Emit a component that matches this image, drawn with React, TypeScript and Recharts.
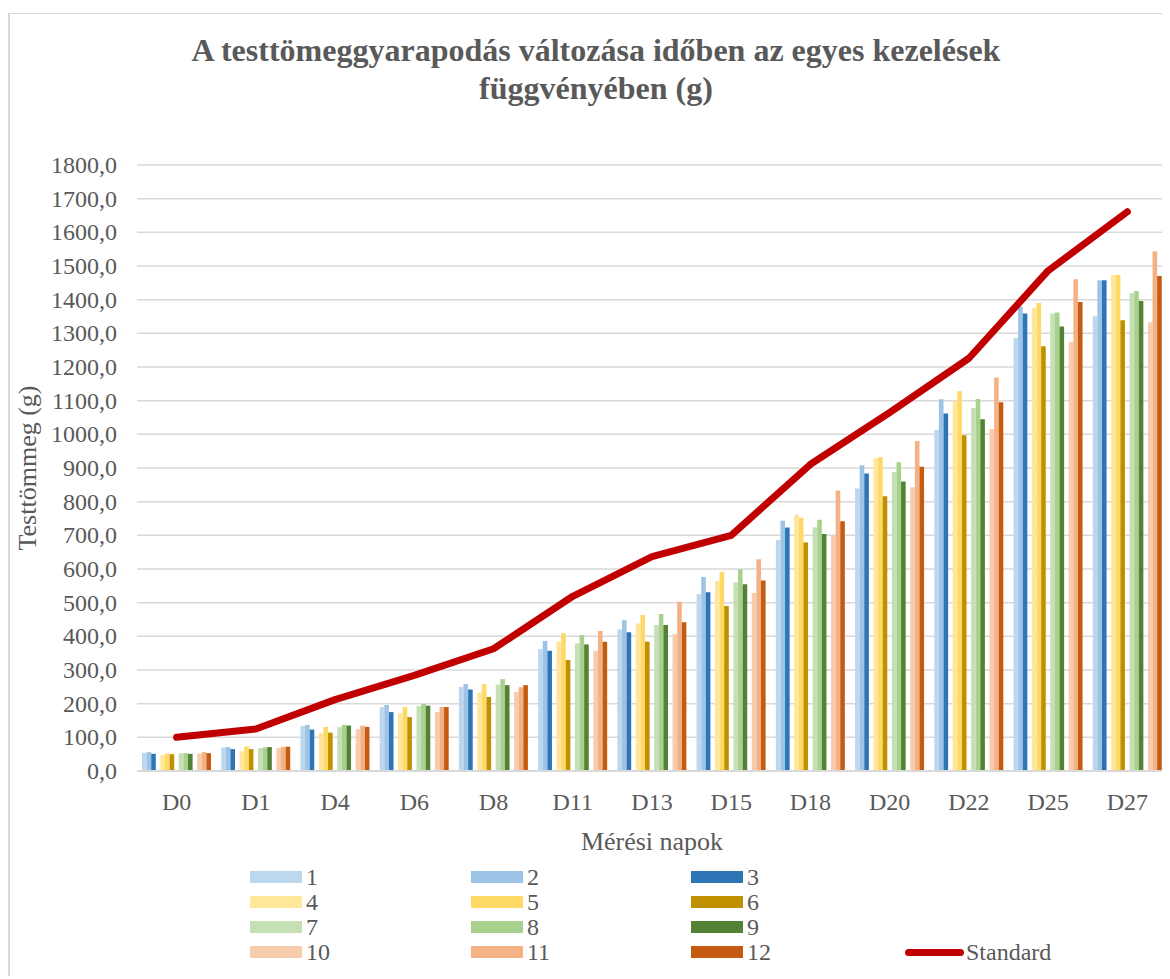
import React from 'react';
import { ComposedChart, Bar, Line, XAxis, YAxis, CartesianGrid, Label } from 'recharts';

// Measurement days
const days = ['D0', 'D1', 'D4', 'D6', 'D8', 'D11', 'D13', 'D15', 'D18', 'D20', 'D22', 'D25', 'D27'];

// Body weight (g) per treatment group
const t1 = [54, 70, 134, 190, 250, 362, 420, 526, 686, 839, 1013, 1286, 1351];
const t2 = [56, 71, 137, 196, 258, 386, 448, 576, 743, 908, 1104, 1379, 1458];
const t3 = [51, 65, 123, 175, 242, 357, 412, 531, 723, 884, 1062, 1359, 1458];
const t4 = [47, 59, 112, 171, 233, 385, 438, 564, 762, 929, 1099, 1376, 1473];
const t5 = [52, 73, 131, 190, 258, 409, 463, 592, 752, 932, 1128, 1390, 1473];
const t6 = [50, 65, 114, 160, 220, 330, 384, 490, 679, 816, 997, 1262, 1339];
const t7 = [53, 68, 130, 193, 257, 379, 434, 561, 724, 888, 1078, 1359, 1420];
const t8 = [53, 70, 137, 199, 273, 404, 466, 599, 746, 917, 1105, 1362, 1426];
const t9 = [51, 71, 135, 194, 255, 376, 434, 555, 704, 860, 1045, 1320, 1396];
const t10 = [52, 68, 124, 175, 235, 357, 407, 529, 701, 843, 1016, 1274, 1333];
const t11 = [56, 72, 135, 190, 249, 416, 503, 629, 833, 980, 1169, 1461, 1544];
const t12 = [53, 72, 131, 190, 255, 384, 442, 566, 742, 904, 1095, 1393, 1470];

// Reference growth curve
const standard = [100, 125, 212, 284, 363, 519, 637, 700, 911, 1065, 1226, 1486, 1661];

const yTicks = [0, 100, 200, 300, 400, 500, 600, 700, 800, 900, 1000, 1100, 1200, 1300, 1400, 1500, 1600, 1700, 1800];

const treatments = [
  { name: '1', values: t1, color: '#bdd7ee' },
  { name: '2', values: t2, color: '#9dc3e6' },
  { name: '3', values: t3, color: '#2e75b6' },
  { name: '4', values: t4, color: '#ffe699' },
  { name: '5', values: t5, color: '#ffd966' },
  { name: '6', values: t6, color: '#bf9000' },
  { name: '7', values: t7, color: '#c5e0b4' },
  { name: '8', values: t8, color: '#a9d18e' },
  { name: '9', values: t9, color: '#548235' },
  { name: '10', values: t10, color: '#f8cbad' },
  { name: '11', values: t11, color: '#f4b183' },
  { name: '12', values: t12, color: '#c55a11' },
];

const STANDARD_COLOR = '#c00000';
const TEXT = '#595959';
const GRID = '#d9d9d9';
const FONT = '"Liberation Serif", "Times New Roman", serif';

const data = days.map((day, i) => {
  const row: Record<string, string | number | null> = { day, Standard: standard[i] };
  treatments.forEach((t) => {
    row['t' + t.name] = t.values[i];
  });
  return row;
});

// Bars are drawn in triplets, with an empty slot after each triplet
const barOrder: (string | null)[] = ['1', '2', '3', null, '4', '5', '6', null, '7', '8', '9', null, '10', '11', '12'];

const CHART_W = 1162;
const CHART_H = 963;
const PLOT_TOP = 157;
const PLOT_BOTTOM = 763;
const X_AXIS_H = 100;

const fmt = (v: number) => v.toFixed(1).replace('.', ',');

const YTick = (props: any) => {
  const { y, payload } = props;
  return (
    <text x={109} y={y + 8} textAnchor="end" fill={TEXT} fontFamily={FONT} fontSize={24}>
      {fmt(payload.value)}
    </text>
  );
};

const XTick = (props: any) => {
  const { x, payload } = props;
  return (
    <text x={x} y={PLOT_BOTTOM + 39} textAnchor="middle" fill={TEXT} fontFamily={FONT} fontSize={24}>
      {payload.value}
    </text>
  );
};

const legendCols = [242, 463, 683];
const legendRows = [869, 894, 919, 944];

export default function App() {
  return (
    <div style={{ position: 'relative', width: CHART_W, height: 968 }}>
      <div
        style={{
          position: 'absolute',
          left: 0,
          top: 5,
          width: CHART_W,
          height: 963,
          borderLeft: `2px solid ${GRID}`,
          borderTop: `1px solid ${GRID}`,
          boxSizing: 'border-box',
        }}
      />
      <div
        style={{
          position: 'absolute',
          left: 88,
          top: 23,
          width: 1000,
          textAlign: 'center',
          fontFamily: FONT,
          fontWeight: 'bold',
          fontSize: 32,
          lineHeight: '38px',
          color: TEXT,
        }}
      >
        A testtömeggyarapodás változása időben az egyes kezelések
        <br />
        függvényében (g)
      </div>
      <div style={{ position: 'absolute', left: 0, top: 0 }}>
        <ComposedChart
          width={CHART_W}
          height={CHART_H}
          data={data}
          margin={{ top: PLOT_TOP, right: 3, left: 0, bottom: CHART_H - PLOT_BOTTOM - X_AXIS_H }}
          barSize={4.6}
          barGap={0}
        >
          <CartesianGrid vertical={false} stroke={GRID} strokeWidth={1.5} />
          <XAxis
            dataKey="day"
            height={X_AXIS_H}
            axisLine={{ stroke: GRID, strokeWidth: 2 }}
            tickLine={false}
            tick={<XTick />}
            interval={0}
          >
            <Label
              content={(p: any) => {
                const vb = p.viewBox || {};
                return (
                  <text
                    x={vb.x + vb.width / 2}
                    y={PLOT_BOTTOM + 79}
                    textAnchor="middle"
                    fill={TEXT}
                    fontFamily={FONT}
                    fontSize={26}
                  >
                    Mérési napok
                  </text>
                );
              }}
            />
          </XAxis>
          <YAxis
            width={129}
            domain={[0, 1800]}
            ticks={yTicks}
            interval={0}
            axisLine={false}
            tickLine={false}
            tick={<YTick />}
          >
            <Label
              content={() => (
                <text
                  x={28}
                  y={460}
                  transform="rotate(-90 28 460)"
                  textAnchor="middle"
                  fill={TEXT}
                  fontFamily={FONT}
                  fontSize={26}
                >
                  Testtömmeg (g)
                </text>
              )}
            />
          </YAxis>
          {barOrder.map((name, i) => {
            if (name === null) {
              return <Bar key={'gap' + i} dataKey={'gap' + i} fill="none" isAnimationActive={false} legendType="none" />;
            }
            const t = treatments.find((s) => s.name === name)!;
            return <Bar key={name} dataKey={'t' + name} name={name} fill={t.color} isAnimationActive={false} />;
          })}
          <Line
            dataKey="Standard"
            stroke={STANDARD_COLOR}
            strokeWidth={7}
            strokeLinecap="round"
            strokeLinejoin="round"
            dot={false}
            activeDot={false}
            isAnimationActive={false}
          />
        </ComposedChart>
      </div>
      {treatments.map((t, i) => {
        const col = i % 3;
        const row = Math.floor(i / 3);
        return (
          <div
            key={t.name}
            style={{
              position: 'absolute',
              left: legendCols[col],
              top: legendRows[row] - 12,
              height: 24,
              display: 'flex',
              alignItems: 'center',
              fontFamily: FONT,
              fontSize: 24,
              lineHeight: 1,
              color: TEXT,
            }}
          >
            <span style={{ display: 'inline-block', width: 52, height: 12, background: t.color, marginRight: 4 }} />
            {t.name}
          </div>
        );
      })}
      <div
        style={{
          position: 'absolute',
          left: 897,
          top: legendRows[3] - 12,
          height: 24,
          display: 'flex',
          alignItems: 'center',
          fontFamily: FONT,
          fontSize: 24,
          lineHeight: 1,
          color: TEXT,
        }}
      >
        <span
          style={{ display: 'inline-block', width: 59, height: 7, borderRadius: 4, background: STANDARD_COLOR, marginRight: 2 }}
        />
        Standard
      </div>
    </div>
  );
}
